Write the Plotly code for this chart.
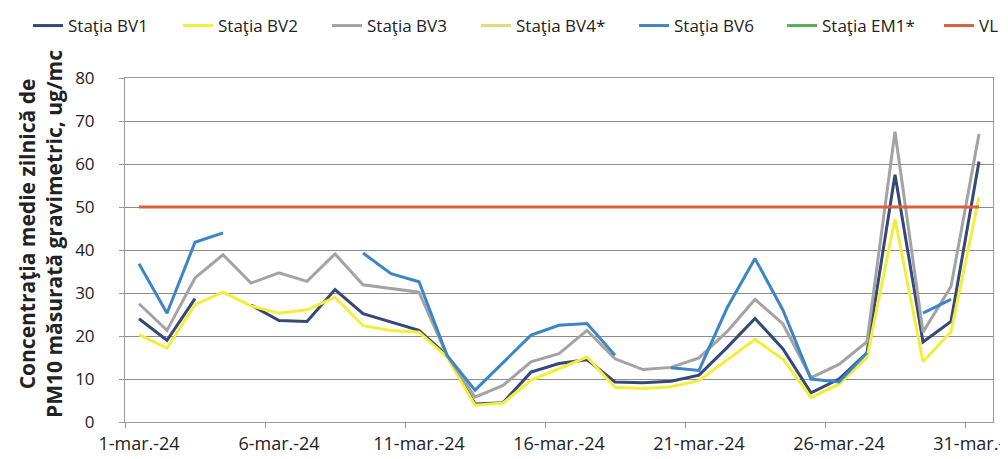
import plotly.graph_objects as go

# daily values, 1..31 March 2024 (None = no measurement)
days = [f"2024-03-{d:02d}" for d in range(1, 32)]

bv1 = [24.0, 19.0, 28.7, None, 27.2, 23.6, 23.4, 30.8, 25.2, 23.3,
       21.3, 15.5, 4.2, 4.5, 11.6, 13.6, 14.5, 9.3, 9.1, 9.5,
       10.9, 17.3, 24.1, 17.0, 6.8, 10.0, 16.1, 57.5, 18.6, 23.4, 60.6]
bv2 = [20.3, 17.2, 27.3, 30.2, 27.0, 25.3, 26.1, 29.0, 22.4, 21.3,
       20.9, 15.1, 3.9, 4.4, 9.7, 12.4, 15.1, 8.1, 7.8, 8.2,
       9.6, 14.4, 19.2, 14.6, 5.7, 8.8, 15.0, 47.2, 14.0, 21.0, 52.2]
bv3 = [27.5, 21.3, 33.5, 38.9, 32.3, 34.7, 32.7, 39.1, 31.9, 31.0,
       30.2, 15.5, 5.8, 8.5, 14.0, 15.9, 21.3, 14.7, 12.2, 12.7,
       14.9, 21.0, 28.5, 22.8, 10.3, 13.4, 18.7, 67.5, 20.9, 31.5, 67.0]
bv4 = [None] * 31
bv6 = [36.8, 25.3, 41.8, 44.0, None, None, None, None, 39.3, 34.5,
       32.6, 15.5, 7.4, 13.8, 20.2, 22.5, 22.9, 15.5, None, 12.6,
       12.0, 26.5, 38.0, 26.0, 10.0, 9.3, 16.1, None, 25.3, 28.5, None]
em1 = [None] * 31
vl = [50] * 31

series = [
    ("Staţia BV1", bv1, "#34497A"),
    ("Staţia BV2", bv2, "#F2EE3A"),
    ("Staţia BV3", bv3, "#A3A3A3"),
    ("Staţia BV4*", bv4, "#E6D870"),
    ("Staţia BV6", bv6, "#3D85C6"),
    ("Staţia EM1*", em1, "#5AAE5A"),
    ("VL", vl, "#D9603B"),
]

tick_days = [1, 6, 11, 16, 21, 26, 31]
tick_vals = [f"2024-03-{d:02d}" for d in tick_days]
tick_text = [f"{d}-mar.-24" for d in tick_days]
# tick marks sit on day boundaries, half a day before the labelled day
minor_vals = ["2024-02-29 12:00"] + [f"2024-03-{d - 1:02d} 12:00" for d in tick_days[1:]]

# page body has an 8px margin, so the figure is 1000x451
W, H = 1000, 451
# left edge (px) of each legend entry, one small legend per trace so the row never wraps
legend_x = [20, 170, 319, 468, 626, 774, 931]

fig = go.Figure()
legends = {}
for i, (name, vals, color) in enumerate(series):
    key = "legend" if i == 0 else f"legend{i + 1}"
    fig.add_trace(go.Scatter(
        x=days, y=vals, name=name, mode="lines",
        line=dict(color=color, width=3),
        connectgaps=False,
        legend=key,
    ))
    legends[key] = dict(
        orientation="h",
        xref="container", yref="container",
        x=legend_x[i] / W, y=1.0, xanchor="left", yanchor="top",
        font=dict(size=17, color="#222222"),
        bgcolor="rgba(0,0,0,0)",
    )

fig.update_layout(
    width=W,
    height=H,
    margin=dict(l=117, r=15, t=70, b=37, autoexpand=False),
    plot_bgcolor="white",
    paper_bgcolor="white",
    font=dict(family="Open Sans", size=16, color="#222222"),
    showlegend=True,
    **legends,
    xaxis=dict(
        type="date",
        range=["2024-02-29 12:00", "2024-03-31 12:00"],
        tickmode="array",
        tickvals=tick_vals,
        ticktext=tick_text,
        ticks="",
        ticklabelstandoff=5,
        ticklabeloverflow="allow",
        showgrid=False,
        showline=True, linecolor="#9a9a9a", linewidth=1, mirror=True,
        minor=dict(tickmode="array", tickvals=minor_vals, ticks="outside",
                   ticklen=5, tickcolor="#9a9a9a", showgrid=False),
        tickfont=dict(size=18),
    ),
    yaxis=dict(
        range=[0, 80],
        dtick=10,
        ticks="outside", ticklen=5, tickcolor="#9a9a9a",
        ticklabelstandoff=21,
        showgrid=True, gridcolor="#8c8c8c", gridwidth=1,
        showline=True, linecolor="#9a9a9a", linewidth=1, mirror=True,
        zeroline=False,
        tickfont=dict(size=17),
    ),
)

fig.add_annotation(
    text="<b>Concentraţia medie zilnică de<br>PM10 măsurată gravimetric, ug/mc</b>",
    xref="paper", yref="paper",
    x=-(117 - 32) / 868, y=(414 - 226) / 344,
    xanchor="center", yanchor="middle",
    textangle=-90, showarrow=False,
    font=dict(size=21, color="#222222"),
)

fig.write_html("out.html")
